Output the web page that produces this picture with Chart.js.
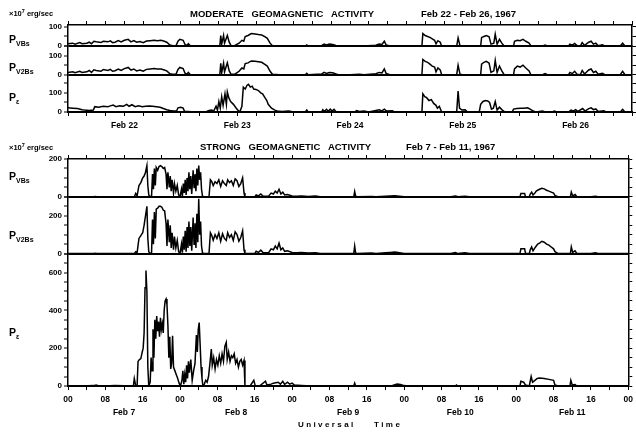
<!DOCTYPE html>
<html>
<head>
<meta charset="utf-8">
<script src="https://cdn.jsdelivr.net/npm/chart.js@4/dist/chart.umd.min.js"></script>
<style>
  body { margin: 0; background: #fff; }
  #wrap { position: relative; width: 636px; height: 432px; background: #fff; overflow: hidden; }
  canvas { position: absolute; left: 0; }
  .t { position: absolute; font-family: "Liberation Sans", Arial, sans-serif; font-weight: bold; color: #000; line-height: 1; white-space: pre; }
  .unit { font-size: 7.5px; }
  .unit sup { font-size: 5.5px; vertical-align: 3px; }
  .title { font-size: 9.5px; }
  .p { font-size: 10.5px; }
  .p sub { font-size: 7px; vertical-align: -3px; }
</style>
</head>
<body>
<div id="wrap">
  <canvas id="modChart" width="636" height="136" style="top:0"></canvas>
  <canvas id="strongChart" width="636" height="296" style="top:136px"></canvas>

  <div class="t unit" style="left:9px;top:9px">×10<sup>7</sup> erg/sec</div>
  <div class="t title" style="left:190px;top:9px">MODERATE   GEOMAGNETIC   ACTIVITY</div>
  <div class="t title" style="left:421px;top:9px">Feb 22 - Feb 26, 1967</div>
  <div class="t p" style="left:9px;top:34px">P<sub>VBs</sub></div>
  <div class="t p" style="left:9px;top:62px">P<sub>V2Bs</sub></div>
  <div class="t p" style="left:9px;top:92px">P<sub>ε</sub></div>

  <div class="t unit" style="left:9px;top:143px">×10<sup>7</sup> erg/sec</div>
  <div class="t title" style="left:200px;top:142px">STRONG   GEOMAGNETIC   ACTIVITY</div>
  <div class="t title" style="left:406px;top:142px">Feb 7 - Feb 11, 1967</div>
  <div class="t p" style="left:9px;top:171px">P<sub>VBs</sub></div>
  <div class="t p" style="left:9px;top:230px">P<sub>V2Bs</sub></div>
  <div class="t p" style="left:9px;top:327px">P<sub>ε</sub></div>

  <div class="t" style="left:298px;top:421px;font-size:8px;letter-spacing:2.4px">Universal    Time</div>
</div>
<script>
// tick labels
const modDays = ['Feb 22', 'Feb 23', 'Feb 24', 'Feb 25', 'Feb 26'];
const strongDays = ['Feb 7', 'Feb 8', 'Feb 9', 'Feb 10', 'Feb 11'];
const hourLabels = ['00', '08', '16'];

// Moderate activity, Feb 22 - Feb 26 (hours from Feb 22 00 UT, 10^7 erg/sec)
const modVBsT = [0,1,1.5,2.5,3,4,4.5,5,5.5,6,7,7.5,8.5,9,9.5,10,10.7,11.3,12,12.8,13.4,14,14.6,15.3,16,16.7,17.5,18.3,19,19.8,20.5,21,21.7,22.3,23,23.4,23.8,24.5,24.9,25.3,25.6,26,27,32.3,32.5,32.7,33.1,33.3,33.9,34.3,34.7,35.5,36.4,37,37.4,37.7,38.3,39,39.8,40.5,41.2,41.8,42.4,43,43.5,45,50.5,50.8,51.1,54,54.5,55,55.6,56.3,57,57.5,60,62,63,65.5,66.2,66.8,67.3,67.7,68.5,75.3,75.5,76,76.5,77,77.5,78,78.3,78.7,79.2,79.5,82.7,83,83.4,84,87.8,88,88.5,89,89.6,90,90.6,90.9,91.3,91.8,92.3,92.8,94.8,95,95.6,96.2,96.8,97.4,98.1,98.5,101,101.5,102,106.5,106.8,107.3,107.8,108.3,109,109.4,109.9,110.8,111.3,111.8,112.3,112.8,113.7,114.2,117.5,118,118.5,120];
const modVBs  = [12,15,10,18,12,15,20,12,25,22,18,25,22,27,18,20,28,22,30,35,22,28,20,24,18,26,28,30,28,30,25,20,5,2,3,25,35,30,8,3,12,1,0,0,55,10,55,15,55,20,2,3,15,30,25,50,55,65,63,60,58,50,40,15,2,0,0,6,0,3,10,6,10,8,3,0,0,2,0,4,10,8,25,5,0,0,65,55,50,45,38,30,12,28,20,0,0,42,2,0,0,45,50,55,48,10,15,62,10,35,15,0,0,25,30,28,35,25,15,0,0,5,0,0,10,5,14,2,0,18,3,20,25,10,15,2,6,0,0,15,0,0];

const modV2BsT = modVBsT;
const modV2Bs  = [12,15,10,18,12,15,22,12,26,22,18,27,22,28,18,21,30,22,32,38,24,30,20,25,18,28,30,32,30,30,25,20,5,2,3,28,38,32,8,3,12,1,0,0,60,10,60,15,62,20,2,3,18,35,30,58,62,72,70,68,65,55,45,18,2,0,0,7,0,4,12,7,12,10,4,0,0,2,0,5,12,9,30,6,0,0,80,70,65,55,45,40,15,35,25,0,0,50,3,0,0,55,65,70,60,12,20,75,12,45,20,0,0,30,45,40,50,35,20,0,0,6,0,0,12,6,18,3,0,22,4,25,30,12,18,3,7,0,0,18,0,0];

const modPeT = [0,1,2,3,3.5,4.5,5.4,5.7,6.5,7.5,8.5,9,9.6,10.2,11,11.8,12.5,13,13.6,14.3,15,15.8,16.5,17.3,18,18.8,19.6,20.3,21,21.7,22.5,23.1,23.4,24,24.5,24.8,25.5,27,29.5,30,30.6,31,31.5,31.8,32.1,32.4,32.7,33,33.4,33.7,33.9,34.2,34.6,35.2,35.8,36.3,36.6,37,37.3,37.7,38.1,38.4,38.8,39.2,39.5,40,40.5,41,41.4,41.9,42.3,42.6,43.3,44,44.5,45.5,47,48,50.5,50.8,51.1,54,54.2,54.6,55,55.4,55.8,56.2,56.6,57,57.5,61,61.4,62,63,64,65.5,66.2,66.8,67.3,67.8,69,69.5,75.3,75.5,75.9,76.3,76.8,77.3,77.8,78.3,78.6,79,79.5,82.7,83,83.3,83.8,84.5,85,87.5,87.8,88.3,88.8,89.3,89.7,90.1,90.5,90.9,91.3,91.8,92.4,93,94.5,94.8,95.5,96.3,97,97.8,98.5,99,99.5,101,101.5,103,103.5,104,106.5,107,107.5,108,108.5,109.5,110,110.8,111.3,111.8,112.3,112.8,114,114.5,117.5,118,118.5,120];
const modPe  = [22,20,18,12,10,8,10,28,25,30,28,32,36,28,32,30,40,30,38,28,32,28,30,32,30,28,25,18,12,8,5,5,22,25,20,3,2,0,3,8,10,5,30,10,55,20,80,35,95,40,105,75,55,40,20,5,3,30,130,120,140,145,130,135,120,118,112,100,95,75,60,40,20,10,5,3,5,0,0,10,0,0,12,4,14,4,15,5,14,3,0,0,8,3,5,0,8,12,6,15,5,6,0,0,95,80,75,60,65,45,35,20,30,0,0,110,20,10,12,0,0,40,55,60,58,50,15,20,55,10,25,10,0,0,15,18,20,20,22,12,5,0,5,0,0,5,0,0,10,5,12,3,18,5,18,22,12,16,3,6,0,0,14,0,0];

// Strong activity, Feb 7 - Feb 11 (hours from Feb 7 00 UT, 10^7 erg/sec)
const strVBsT = [0,5.5,5.8,6.2,14.2,14.5,14.8,15.2,15.6,16,16.3,16.6,16.9,17.1,17.3,17.6,17.9,18.1,18.3,18.5,18.7,18.9,19.2,19.5,19.8,20.1,20.4,20.7,21,21.2,21.4,21.7,21.9,22.1,22.3,22.6,22.8,23.1,23.4,23.7,24,24.3,24.5,24.7,24.9,25.1,25.3,25.5,25.7,25.9,26.1,26.3,26.5,26.8,27,27.2,27.4,27.6,27.8,28,28.2,28.4,28.6,28.8,29,30.2,30.5,30.8,31.1,31.5,31.9,32.3,32.7,33.1,33.5,33.9,34.2,34.6,35,35.4,35.8,36.2,36.6,37,37.4,37.7,37.9,40,40.3,40.8,41.3,41.8,43,43.5,44,44.4,44.8,45.2,45.6,46,46.4,47,48,49,50,51.5,53,54,61.2,61.4,61.6,62,65,66,68,69,70,71,72,82,83,83.5,85,86,96.8,97,97.8,98,98.8,99,99.3,99.6,100,100.3,100.6,101,101.5,102,102.5,103,103.5,104,104.3,105,107.6,107.8,108.1,108.6,109,112,113,113.5,120];
const strVBs  = [0,0,2,0,0,18,5,60,75,100,110,130,165,60,10,0,5,120,40,150,60,155,140,160,165,160,150,155,120,40,130,50,110,30,90,20,70,30,60,10,0,40,5,70,20,90,10,100,30,130,40,110,15,140,50,120,30,150,60,165,90,130,40,5,0,0,90,80,60,80,70,90,55,85,70,60,90,75,85,60,95,85,55,70,100,20,0,0,10,5,15,3,5,20,15,30,20,40,15,25,10,12,5,3,5,2,4,0,0,28,3,0,2,0,3,5,6,3,0,0,4,0,3,0,0,18,18,0,0,15,25,10,20,30,35,40,45,42,35,30,25,20,8,0,0,25,5,12,0,0,3,0,0];

const strV2BsT = strVBsT;
const strV2Bs  = [0,0,2,0,0,10,5,80,95,110,150,200,250,80,10,0,5,180,50,220,80,235,240,250,250,245,230,225,160,40,180,60,150,30,110,20,90,30,70,10,0,50,5,90,20,120,10,140,30,170,40,140,15,190,50,160,30,210,60,290,100,170,40,5,0,0,110,95,70,100,80,110,65,105,80,70,110,85,100,70,115,100,65,85,120,20,0,0,12,6,18,4,6,25,20,40,25,55,20,30,12,15,6,4,6,3,5,0,0,40,4,0,3,0,4,6,8,4,0,0,5,0,4,0,0,25,25,0,0,20,35,15,30,40,50,55,65,60,50,45,35,25,10,0,0,35,6,15,0,0,4,0,0];

const strPeT = [0,3,5.5,6,6.5,8,10,12,14,14.2,14.5,14.8,15,15.3,15.6,15.9,16.1,16.3,16.5,16.7,16.9,17.1,17.3,17.6,17.8,18,18.2,18.4,18.6,18.8,19,19.2,19.4,19.6,19.8,20,20.2,20.4,20.6,20.8,21,21.2,21.4,21.6,21.8,22,22.2,22.4,22.6,22.9,23.2,23.5,23.8,24.1,24.4,24.6,24.8,25,25.2,25.4,25.6,25.8,26,26.3,26.6,26.9,27.2,27.5,27.7,27.9,28.1,28.3,28.5,28.7,28.9,29.2,29.5,29.8,30.1,30.4,30.7,30.9,31.2,31.5,31.8,32.1,32.4,32.7,33,33.3,33.6,33.9,34.1,34.4,34.7,35,35.3,35.6,35.9,36.2,36.5,36.8,37.1,37.4,37.7,37.9,39,39.8,40.1,41,42.3,42.6,43.5,44,45,45.5,46,46.4,47,47.5,48,48.5,50,52,61.2,61.4,61.6,68,69.5,70.5,71.2,72,73,83,83.2,83.5,96.8,97,97.6,98,98.8,99.2,99.5,100,100.5,101,102,103,104,104.3,105,107.5,107.7,108,108.6,109,120];
const strPe  = [0,0,2,5,1,0,2,1,0,40,2,0,130,140,145,180,200,280,520,610,500,100,0,20,150,80,300,150,350,250,370,290,340,260,360,300,330,280,400,450,460,430,320,150,260,90,120,265,100,80,60,40,15,0,30,80,10,60,20,110,40,130,70,140,30,80,120,270,180,300,335,220,100,40,0,10,30,20,50,120,195,110,150,90,140,110,160,120,170,130,210,230,140,180,130,160,150,170,120,140,100,130,140,110,135,0,0,30,2,0,25,5,10,15,20,10,25,8,20,10,15,5,3,0,0,15,0,0,3,10,8,2,0,0,5,0,0,25,20,5,0,50,20,30,40,42,40,35,30,5,0,0,30,5,8,0,0];

function pts(t, v) {
  return t.map((h, i) => ({ x: h, y: v[i] }));
}

// tick marks every 50 units, from 0 up to the axis max
function every50(s) {
  const ticks = [];
  for (let v = 0; v <= s.max; v += 50) ticks.push({ value: v });
  s.ticks = ticks;
}

const tickFont = { family: '"Liberation Sans", Arial, sans-serif', size: 8, weight: 'bold' };

function leftAxis(stack, weight, order, max, labelStep) {
  return {
    type: 'linear', position: 'left', stack: stack, stackWeight: weight, weight: order,
    min: 0, max: max,
    afterFit: s => { s.width = 68; },
    afterBuildTicks: every50,
    ticks: {
      padding: 2, autoSkip: false, color: '#000', font: tickFont,
      callback: v => (v % labelStep === 0 ? String(v) : '')
    },
    grid: {
      drawOnChartArea: true, drawTicks: true, tickLength: 4, tickWidth: 1, tickColor: '#000',
      color: c => (c.tick && c.tick.value === 0 ? '#000' : 'rgba(0,0,0,0)'),
      lineWidth: c => (c.tick && c.tick.value === 0 ? 2 : 0)
    },
    border: { display: true, color: '#000', width: 1.5 }
  };
}

function rightAxis(stack, weight, order, max) {
  return {
    type: 'linear', position: 'right', stack: stack, stackWeight: weight, weight: order,
    min: 0, max: max,
    afterFit: s => { s.width = 4; },
    afterBuildTicks: every50,
    ticks: { autoSkip: false, display: false },
    grid: { drawOnChartArea: false, tickLength: 4, tickWidth: 1, tickColor: '#000', color: '#000' },
    border: { display: true, color: '#000', width: 1.5 }
  };
}

function xAxes(topH, bottomH, labelFn) {
  return {
    x: {
      type: 'linear', position: 'bottom', min: 0, max: 120,
      afterFit: s => { s.height = bottomH; },
      ticks: {
        stepSize: 4, autoSkip: false, maxRotation: 0, padding: 3,
        color: '#000', font: { ...tickFont, size: 8.5, lineHeight: 1.55 },
        callback: labelFn
      },
      grid: { drawOnChartArea: false, tickLength: 4, tickWidth: 1, tickColor: '#000', color: '#000' },
      border: { display: true, color: '#000', width: 1.5 }
    },
    xTop: {
      type: 'linear', position: 'top', min: 0, max: 120,
      afterFit: s => { s.height = topH; },
      ticks: { stepSize: 4, autoSkip: false, maxRotation: 0, display: false },
      grid: { drawOnChartArea: false, tickLength: 4, tickWidth: 1, tickColor: '#000', color: '#000' },
      border: { display: true, color: '#000', width: 1.5 }
    }
  };
}

function line(data, axisId) {
  return {
    data: data, yAxisID: axisId, xAxisID: 'x',
    borderColor: '#000', borderWidth: 1.5, pointRadius: 0, tension: 0, fill: false
  };
}

const commonOpts = {
  responsive: false, animation: false, devicePixelRatio: 1,
  layout: { padding: 0 },
  plugins: { legend: { display: false }, tooltip: { enabled: false } }
};

new Chart(document.getElementById('modChart'), {
  type: 'line',
  data: {
    datasets: [
      line(pts(modVBsT, modVBs), 'yA'),
      line(pts(modV2BsT, modV2Bs), 'yB'),
      line(pts(modPeT, modPe), 'yC')
    ]
  },
  options: {
    ...commonOpts,
    scales: {
      ...xAxes(25, 24, v => (v % 24 === 12 ? modDays[Math.floor(v / 24)] : '')),
      yA: leftAxis('mod', 110, 3, 110, 100),
      yB: leftAxis('mod', 150, 2, 150, 100),
      yC: leftAxis('mod', 195, 1, 195, 100),
      rA: rightAxis('modR', 110, 1, 110),
      rB: rightAxis('modR', 150, 2, 150),
      rC: rightAxis('modR', 195, 3, 195)
    }
  }
});

new Chart(document.getElementById('strongChart'), {
  type: 'line',
  data: {
    datasets: [
      line(pts(strVBsT, strVBs), 'yA'),
      line(pts(strV2BsT, strV2Bs), 'yB'),
      line(pts(strPeT, strPe), 'yC')
    ]
  },
  options: {
    ...commonOpts,
    scales: {
      ...xAxes(23, 46, v => {
        if (v % 8 === 0) return hourLabels[(v % 24) / 8];
        if (v % 24 === 12) return ['', strongDays[Math.floor(v / 24)]];
        return '';
      }),
      yA: leftAxis('str', 200, 3, 200, 200),
      yB: leftAxis('str', 300, 2, 300, 200),
      yC: leftAxis('str', 700, 1, 700, 200),
      rA: rightAxis('strR', 200, 1, 200),
      rB: rightAxis('strR', 300, 2, 300),
      rC: rightAxis('strR', 700, 3, 700)
    }
  }
});
</script>
</body>
</html>
